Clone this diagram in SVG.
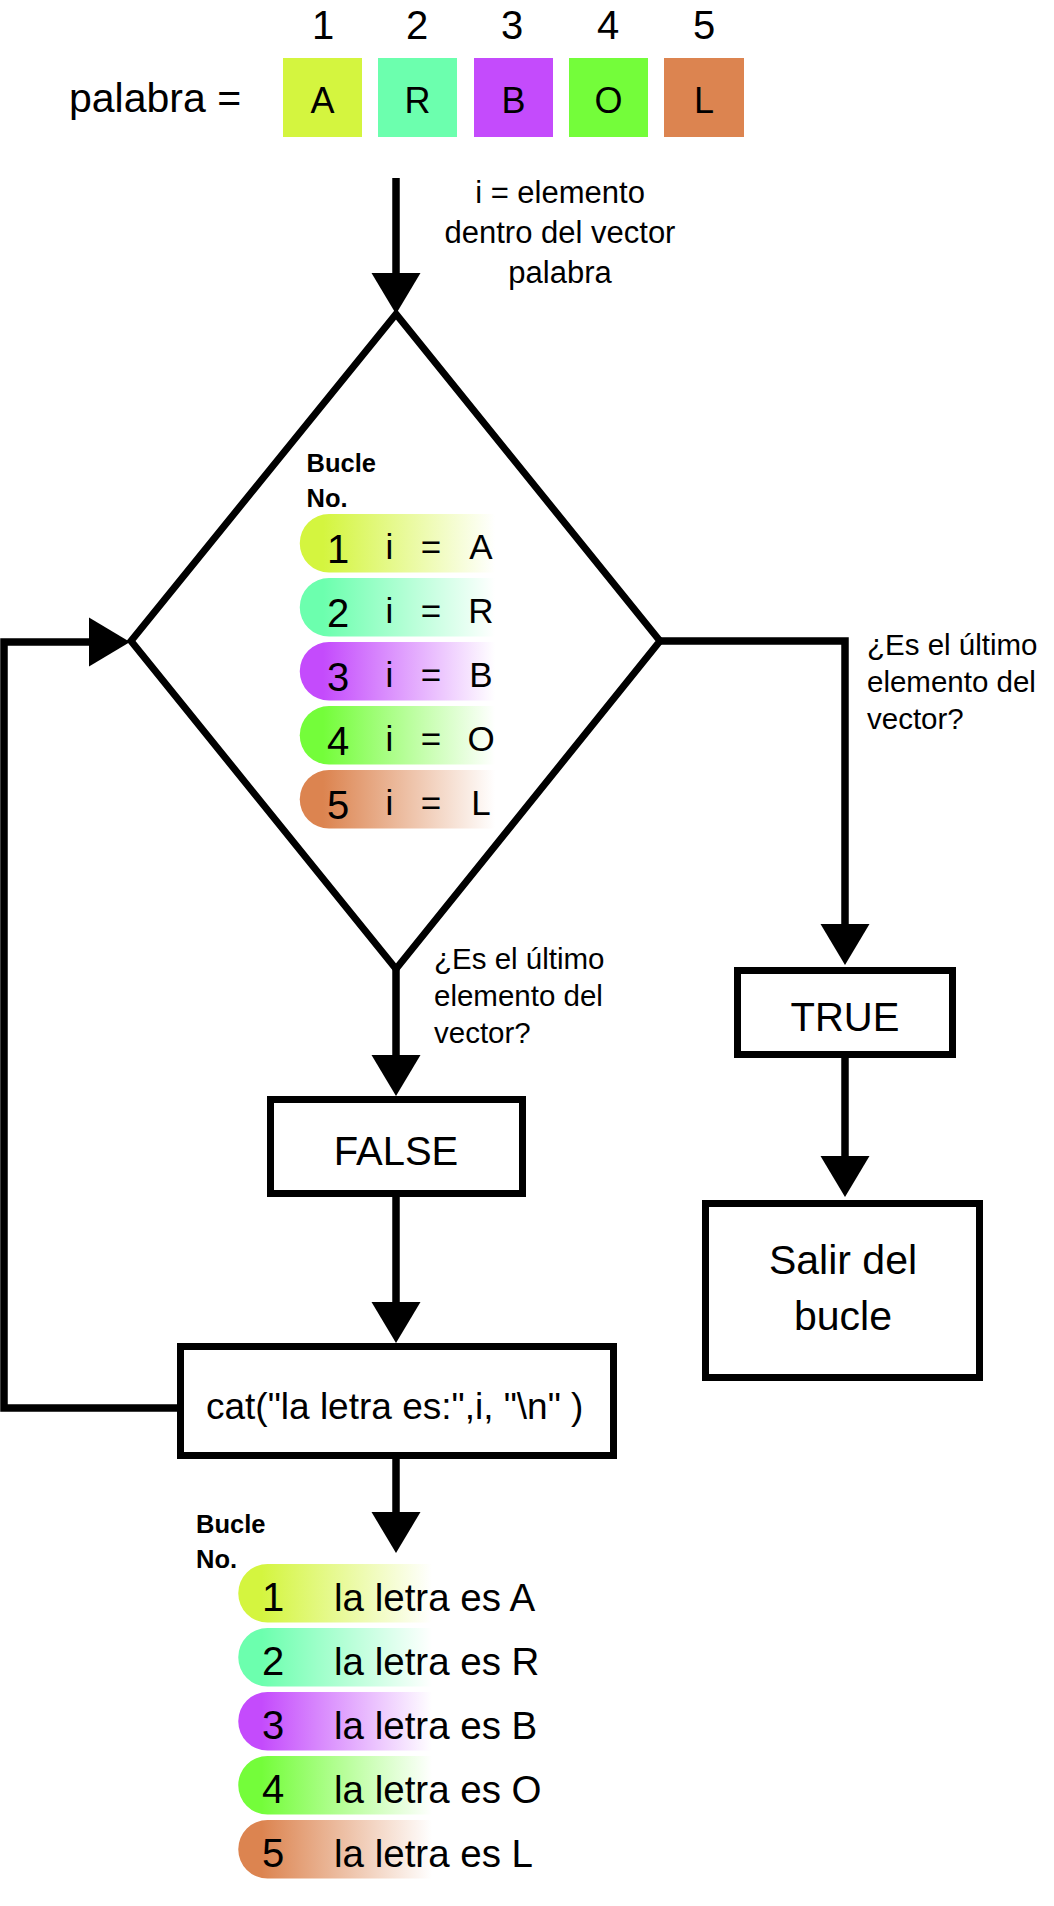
<svg xmlns="http://www.w3.org/2000/svg" width="1054" height="1906" viewBox="0 0 1054 1906">
<style>
  text { font-family: "Liberation Sans", Arial, sans-serif; fill: #000; }
  .num { font-size: 40px; text-anchor: middle; }
  .let { font-size: 36px; text-anchor: middle; }
  .lbl { font-size: 30px; }
  .box { fill: #fff; stroke: #000; stroke-width: 7; }
  .btxt { font-size: 40px; text-anchor: middle; }
  .bold { font-size: 25.5px; font-weight: bold; }
  .pd { font-size: 40px; text-anchor: middle; }
  .pt { font-size: 35px; text-anchor: middle; }
  .out { font-size: 38.5px; }
  .conn { fill: none; stroke: #000; stroke-width: 7.5; marker-end: url(#ah); }
</style>
<defs>
  <marker id="ah" markerUnits="userSpaceOnUse" markerWidth="42" markerHeight="50" viewBox="0 0 42 50" refX="1" refY="25" orient="auto">
    <path d="M0,0.5 L41,25 L0,49.5 Z" fill="#000"/>
  </marker>
  <linearGradient id="g1" x1="0" y1="0" x2="1" y2="0"><stop offset="0" stop-color="#d4f53f"/><stop offset="0.12" stop-color="#d4f53f"/><stop offset="1" stop-color="#d4f53f" stop-opacity="0"/></linearGradient>
  <linearGradient id="g2" x1="0" y1="0" x2="1" y2="0"><stop offset="0" stop-color="#6cffae"/><stop offset="0.12" stop-color="#6cffae"/><stop offset="1" stop-color="#6cffae" stop-opacity="0"/></linearGradient>
  <linearGradient id="g3" x1="0" y1="0" x2="1" y2="0"><stop offset="0" stop-color="#c44bfc"/><stop offset="0.12" stop-color="#c44bfc"/><stop offset="1" stop-color="#c44bfc" stop-opacity="0"/></linearGradient>
  <linearGradient id="g4" x1="0" y1="0" x2="1" y2="0"><stop offset="0" stop-color="#74fd3a"/><stop offset="0.12" stop-color="#74fd3a"/><stop offset="1" stop-color="#74fd3a" stop-opacity="0"/></linearGradient>
  <linearGradient id="g5" x1="0" y1="0" x2="1" y2="0"><stop offset="0" stop-color="#dc8450"/><stop offset="0.12" stop-color="#dc8450"/><stop offset="1" stop-color="#dc8450" stop-opacity="0"/></linearGradient>
</defs>
<rect width="1054" height="1906" fill="#fff"/>

<g id="vector">
  <text x="69" y="112" style="font-size:41px">palabra =</text>
  <text class="num" x="323" y="39">1</text>
  <text class="num" x="417" y="39">2</text>
  <text class="num" x="512" y="39">3</text>
  <text class="num" x="608" y="39">4</text>
  <text class="num" x="704" y="39">5</text>
  <rect x="283" y="58" width="79" height="79" fill="#d4f53f"/>
  <rect x="378" y="58" width="79" height="79" fill="#6cffae"/>
  <rect x="474" y="58" width="79" height="79" fill="#c44bfc"/>
  <rect x="569" y="58" width="79" height="79" fill="#74fd3a"/>
  <rect x="664" y="58" width="80" height="79" fill="#dc8450"/>
  <text class="let" x="322.5" y="113">A</text>
  <text class="let" x="417.5" y="113">R</text>
  <text class="let" x="513.5" y="113">B</text>
  <text class="let" x="608.5" y="113">O</text>
  <text class="let" x="704" y="113">L</text>
</g>

<g id="connectors">
  <path class="conn" d="M396,178 V274"/>
  <path class="conn" d="M180,1408 H4 V642 H90"/>
  <path class="conn" d="M660,641 H845 V925"/>
  <path class="conn" d="M845,1058 V1157"/>
  <path class="conn" d="M396,969 V1056"/>
  <path class="conn" d="M396,1195 V1303"/>
  <path class="conn" d="M396,1458 V1513"/>
  <g class="lbl">
    <text x="560" y="203" text-anchor="middle" style="font-size:31px">i = elemento</text>
    <text x="560" y="243" text-anchor="middle" style="font-size:31px">dentro del vector</text>
    <text x="560" y="283" text-anchor="middle" style="font-size:31px">palabra</text>
    <text x="867" y="655" style="font-size:29.5px">¿Es el último</text>
    <text x="867" y="692" style="font-size:29.5px">elemento del</text>
    <text x="867" y="729" style="font-size:29.5px">vector?</text>
    <text x="434" y="969" style="font-size:29.5px">¿Es el último</text>
    <text x="434" y="1006" style="font-size:29.5px">elemento del</text>
    <text x="434" y="1043" style="font-size:29.5px">vector?</text>
  </g>
</g>

<g id="decision">
  <polygon points="396,314 660,641 396,969 131,641" fill="#fff" stroke="#000" stroke-width="7"/>
  <text class="bold" x="306.5" y="471.5">Bucle</text>
  <text class="bold" x="306.5" y="506.5">No.</text>
  <path d="M329,514 H495 V572.5 H329 A29.25,29.25 0 0 1 329,514 Z" fill="url(#g1)"/>
  <path d="M329,578 H495 V636.5 H329 A29.25,29.25 0 0 1 329,578 Z" fill="url(#g2)"/>
  <path d="M329,642 H495 V700.5 H329 A29.25,29.25 0 0 1 329,642 Z" fill="url(#g3)"/>
  <path d="M329,706 H495 V764.5 H329 A29.25,29.25 0 0 1 329,706 Z" fill="url(#g4)"/>
  <path d="M329,770 H495 V828.5 H329 A29.25,29.25 0 0 1 329,770 Z" fill="url(#g5)"/>
  <text class="pd" x="338" y="562.5">1</text>
  <text class="pd" x="338" y="626.5">2</text>
  <text class="pd" x="338" y="690.5">3</text>
  <text class="pd" x="338" y="754.5">4</text>
  <text class="pd" x="338" y="818.5">5</text>
  <text class="pt" x="389.5" y="559">i</text><text class="pt" x="431" y="559">=</text><text class="pt" x="481" y="559">A</text>
  <text class="pt" x="389.5" y="623">i</text><text class="pt" x="431" y="623">=</text><text class="pt" x="481" y="623">R</text>
  <text class="pt" x="389.5" y="687">i</text><text class="pt" x="431" y="687">=</text><text class="pt" x="481" y="687">B</text>
  <text class="pt" x="389.5" y="751">i</text><text class="pt" x="431" y="751">=</text><text class="pt" x="481" y="751">O</text>
  <text class="pt" x="389.5" y="815">i</text><text class="pt" x="431" y="815">=</text><text class="pt" x="481" y="815">L</text>
</g>

<g id="true-node">
  <rect class="box" x="737.5" y="970.5" width="215" height="84"/>
  <text class="btxt" x="845" y="1031">TRUE</text>
</g>

<g id="salir-node">
  <rect class="box" x="705.5" y="1203.5" width="274" height="174"/>
  <text class="btxt" x="843" y="1274" style="font-size:41px">Salir del</text>
  <text class="btxt" x="843" y="1330" style="font-size:41px">bucle</text>
</g>

<g id="false-node">
  <rect class="box" x="270.5" y="1099.5" width="252" height="94"/>
  <text class="btxt" x="396" y="1165">FALSE</text>
</g>

<g id="cat-node">
  <rect class="box" x="180.5" y="1346.5" width="433" height="109"/>
  <text x="206" y="1419" style="font-size:37px">cat("la letra es:",i, "\n" )</text>
</g>

<g id="output">
  <text class="bold" x="196" y="1533">Bucle</text>
  <text class="bold" x="196" y="1568">No.</text>
  <path d="M267.5,1564 H432 V1622.5 H267.5 A29.25,29.25 0 0 1 267.5,1564 Z" fill="url(#g1)"/>
  <path d="M267.5,1628 H432 V1686.5 H267.5 A29.25,29.25 0 0 1 267.5,1628 Z" fill="url(#g2)"/>
  <path d="M267.5,1692 H432 V1750.5 H267.5 A29.25,29.25 0 0 1 267.5,1692 Z" fill="url(#g3)"/>
  <path d="M267.5,1756 H432 V1814.5 H267.5 A29.25,29.25 0 0 1 267.5,1756 Z" fill="url(#g4)"/>
  <path d="M267.5,1820 H432 V1878.5 H267.5 A29.25,29.25 0 0 1 267.5,1820 Z" fill="url(#g5)"/>
  <text class="pd" x="273" y="1611">1</text>
  <text class="pd" x="273" y="1675">2</text>
  <text class="pd" x="273" y="1739">3</text>
  <text class="pd" x="273" y="1803">4</text>
  <text class="pd" x="273" y="1867">5</text>
  <text class="out" x="334" y="1611">la letra es A</text>
  <text class="out" x="334" y="1675">la letra es R</text>
  <text class="out" x="334" y="1739">la letra es B</text>
  <text class="out" x="334" y="1803">la letra es O</text>
  <text class="out" x="334" y="1867">la letra es L</text>
</g>
</svg>
